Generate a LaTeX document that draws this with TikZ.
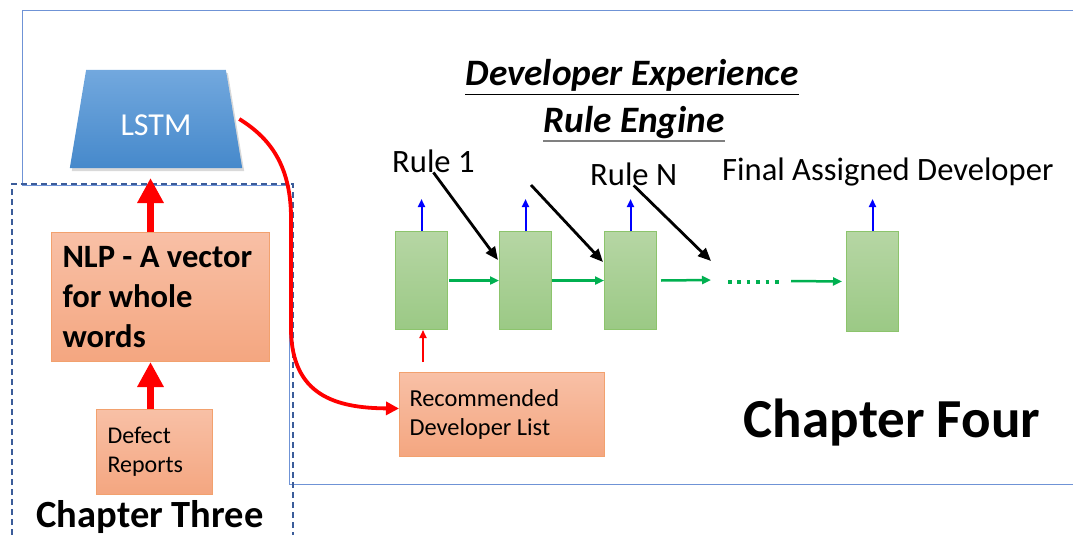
\documentclass[tikz,border=0pt]{standalone}
\usepackage{fontspec}
\setmainfont{Carlito}
\usetikzlibrary{arrows.meta,shapes.geometric,shadows}

\definecolor{frameblue}{HTML}{6F93D6}
\definecolor{dashblue}{HTML}{3B5C9A}
\definecolor{lstmtop}{HTML}{72A8DE}
\definecolor{lstmbot}{HTML}{4689CB}
\definecolor{salmontop}{HTML}{F8C0A6}
\definecolor{salmonbot}{HTML}{F4A680}
\definecolor{salmonedge}{HTML}{F2A16E}
\definecolor{greentop}{HTML}{B6D6A4}
\definecolor{greenbot}{HTML}{9BC985}
\definecolor{greenedge}{HTML}{8CC46C}
\definecolor{flowgreen}{HTML}{00B050}

\begin{document}
\begin{tikzpicture}[x=1pt,y=-1pt,
  every node/.style={inner sep=0pt},
  txtbox/.style={draw=salmonedge, line width=1pt, top color=salmontop,
    bottom color=salmonbot, align=flush left, anchor=north west},
  rulebox/.style={draw=greenedge, line width=1pt, top color=greentop,
    bottom color=greenbot, minimum width=52pt, minimum height=98pt,
    anchor=north west},
  bigarrow/.style={draw=red, line width=7pt, -{Triangle[length=25pt,width=25pt]}},
  curvearrow/.style={draw=red, line width=3.8pt, -{Triangle[length=13pt,width=13pt]}},
  thinred/.style={draw=red, line width=1.8pt, -{Triangle[length=8pt,width=7pt]}},
  outarrow/.style={draw=blue, line width=2pt, -{Triangle[length=8pt,width=7pt]}},
  flow/.style={draw=flowgreen, line width=2.5pt, -{Triangle[length=9pt,width=8pt]}},
  ruleptr/.style={draw=black, line width=2.8pt, -{Triangle[length=13pt,width=11pt]}},
  labeltxt/.style={font=\fontsize{32.6}{39}\selectfont},
  heading/.style={font=\fontsize{37.3}{45}\selectfont\bfseries\itshape}
]
\useasboundingbox (0,0) rectangle (1073,535);

% outline of the chapter four area
\draw[frameblue, line width=1pt] (1080,11) -- (22,11) -- (22,185) -- (289,185)
  -- (289,484) -- (1080,484);
% dashed outline of the chapter three area
\draw[dashblue, line width=1.4pt, dash pattern=on 6pt off 4pt]
  (12,545) -- (12,184) -- (293,184) -- (293,545);

% chapter three: defect reports -> NLP -> LSTM
\node[trapezium, trapezium angle=76.2, trapezium stretches=true,
  minimum width=173pt, minimum height=98pt,
  top color=lstmtop, bottom color=lstmbot,
  drop shadow={shadow xshift=2pt, shadow yshift=-3pt, opacity=0.3},
  text=white, font=\fontsize{32}{39}\selectfont,
  text height=33.6pt, text depth=0pt] (lstm) at (156,119) {LSTM};

\node[txtbox, minimum width=218pt, minimum height=129pt, inner xsep=11pt,
  text width=196pt, font=\fontsize{32.6}{40}\selectfont\bfseries]
  (nlp) at (51,232) {NLP - A vector\\for whole\\words};

\node[txtbox, minimum width=116pt, minimum height=85pt, inner xsep=11pt,
  text width=94pt, font=\fontsize{24}{29.3}\selectfont]
  (defect) at (96,409) {Defect\\Reports};

\coordinate (ax) at (150.5,0);
\coordinate (lstmin) at (150.5,178);
\draw[bigarrow] (nlp.north -| ax) -- (lstmin);
\draw[bigarrow] (defect.north -| ax) -- (nlp.south -| ax);

\node[anchor=base, font=\fontsize{38.5}{46}\selectfont\bfseries] (ch3)
  at (150,527) {Chapter Three};

% chapter four: rule engine
\node[heading, anchor=base] (t1) at (632,85) {Developer Experience};
\node[heading, anchor=base] (t2) at (634,132) {Rule Engine};
\draw[black, line width=1.3pt] ([yshift=-9.5pt]t1.base west) -- ([yshift=-9.5pt]t1.base east);
\draw[black!50, line width=2pt] ([yshift=-8.5pt]t2.base west) -- ([yshift=-8.5pt]t2.base east);

\node[rulebox] (r1) at (395,231) {};
\node[rulebox] (r2) at (499,231) {};
\node[rulebox] (r3) at (604,231) {};
\node[rulebox, minimum height=100pt] (r4) at (846,231) {};

\node[txtbox, minimum width=205pt, minimum height=84pt, inner xsep=10pt,
  text width=185pt, font=\fontsize{24.4}{29.3}\selectfont]
  (rec) at (399,372) {Recommended\\Developer List};

\node[labeltxt, anchor=base west] (rule1) at (392,172) {Rule 1};
\node[labeltxt, anchor=base west] (rulen) at (590,185) {Rule N};
\node[labeltxt, anchor=base west] (final) at (722,180) {Final Assigned Developer};

\node[anchor=base, font=\fontsize{55}{64}\selectfont\bfseries] (ch4)
  at (892,437) {Chapter Four};

% LSTM output feeds the recommended developer list
\draw[curvearrow] ([xshift=5pt]lstm.east) .. controls (270,138) and (290,165) .. (291,215)
  -- (291,330) .. controls (292,395) and (335,408) .. ([yshift=6pt]rec.west);

\coordinate (redx) at (423,0);
\draw[thinred, shorten <=10pt] (rec.north -| redx) -- (r1.south -| redx);

% outputs of each rule
\foreach \b in {r1,r2,r3,r4}
  \draw[outarrow] (\b.north) -- ([yshift=32pt]\b.north);

% rules feeding the chain
\coordinate (k1) at (498,260);
\coordinate (k2s) at (531,185);
\coordinate (k2) at (603,262);
\coordinate (k3) at (711,261);
\draw[ruleptr] (rule1.south) -- (k1);
\draw[ruleptr] (k2s) -- (k2);
\draw[ruleptr] (rulen.south) -- (k3);

% flow along the chain
\coordinate (g1) at (711,280);
\coordinate (d1) at (728,282);
\coordinate (d2) at (780,282);
\coordinate (g2) at (791,281);
\draw[flow] ([xshift=1pt]r1.east) -- (r2.west);
\draw[flow] (r2.east) -- (r3.west);
\draw[flow] ([xshift=4pt]r3.east) -- (g1);
\draw[flowgreen, line width=3.5pt, dash pattern=on 3.5pt off 5.9pt] (d1) -- (d2);
\draw[flow] (g2) -- ([xshift=-4pt]r4.west);
\end{tikzpicture}
\end{document}
